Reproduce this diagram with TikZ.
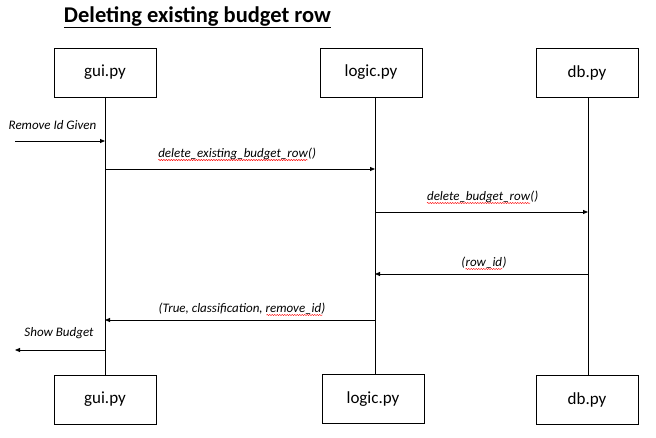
\documentclass[tikz,border=0pt]{standalone}
\usepackage{fontspec}
\setmainfont{Carlito}
\usetikzlibrary{arrows.meta,decorations.pathmorphing}
\begin{document}
\begin{tikzpicture}[x=1pt,y=-1pt,
  obj/.style={draw,line width=0.8pt,minimum width=102pt,minimum height=49pt,font=\fontsize{17}{20}\selectfont,inner sep=0pt},
  life/.style={line width=0.8pt},
  msg/.style={line width=0.8pt,-{Triangle[length=5pt,width=4pt]}},
  lbl/.style={font=\fontsize{13}{15}\selectfont\itshape,inner sep=0pt},
  part/.style={lbl,anchor=base west},
  spell/.style={red,line width=0.4pt,decorate,decoration={snake,amplitude=0.6pt,segment length=2.5pt}}]
\useasboundingbox (0,0) rectangle (656,437);
\node[font=\fontsize{22.5}{26}\selectfont\bfseries] (title) at (197.5,17) {\underline{Deleting existing budget row}};
\node[obj] (g1) at (105,72.5) {gui.py};
\node[obj] (l1) at (371,72.5) {logic.py};
\node[obj] (d1) at (587,72.5) {db.py};
\node[obj] (g2) at (105,399.5) {gui.py};
\node[obj] (l2) at (373,399) {logic.py};
\node[obj] (d2) at (587,399.5) {db.py};
\draw[life] (g1.south) -- (g2.north);
\draw[life] (375,97) coordinate (l1b) -- (375,375) coordinate (l2t);
\draw[life] (588,97) coordinate (d1b) -- (588,375) coordinate (d2t);
% messages
\coordinate (in) at (15,141);
\coordinate (g141) at (105,141);
\draw[msg] (in) -- (g141);
\node[lbl,anchor=base] (m0) at (52.5,129) {Remove Id Given};
\coordinate (g169) at (105,169);
\coordinate (l169) at (375,169);
\draw[msg] (g169) -- (l169);
\node[lbl,anchor=base] (m1) at (237,157.5) {\phantom{delete\_existing\_budget\_row()}};
\node[part] (m1w) at (m1.base west) {delete\_existing\_budget\_row};
\node[part] (m1p) at (m1w.base east) {()};
\coordinate (l212) at (375,212);
\coordinate (d212) at (588,212);
\draw[msg] (l212) -- (d212);
\node[lbl,anchor=base] (m2) at (482.5,200.5) {\phantom{delete\_budget\_row()}};
\node[part] (m2w) at (m2.base west) {delete\_budget\_row};
\node[part] (m2p) at (m2w.base east) {()};
\coordinate (d274) at (588,274);
\coordinate (l274) at (375,274);
\draw[msg] (d274) -- (l274);
\node[lbl,anchor=base] (m3) at (483.5,266.5) {\phantom{(row\_id)}};
\node[part] (m3a) at (m3.base west) {(};
\node[part] (m3w) at (m3a.base east) {row\_id};
\node[part] (m3b) at (m3w.base east) {)};
\coordinate (l320) at (375,320);
\coordinate (g320) at (105,320);
\draw[msg] (l320) -- (g320);
\node[lbl,anchor=base] (m4) at (242,312.5) {\phantom{(True, classification, remove\_id)}};
\node[part] (m4w) at (m4.base east) [anchor=base east,xshift=-3pt] {\phantom{remove\_id}};
\node[part] (m4t) at (m4.base west) {(True, classification, remove\_id)};
\coordinate (g350) at (105,350);
\coordinate (out) at (15,350);
\draw[msg] (g350) -- (out);
\node[lbl,anchor=base] (m5) at (59,336) {Show Budget};
% spell-check underlines
\draw[spell] ([yshift=-2.5pt]m1w.base west) -- ([yshift=-2.5pt]m1w.base east);
\draw[spell] ([yshift=-2.5pt]m2w.base west) -- ([yshift=-2.5pt]m2w.base east);
\draw[spell] ([yshift=-2.5pt]m3w.base west) -- ([yshift=-2.5pt]m3w.base east);
\draw[spell] ([yshift=-2.5pt]m4w.base west) -- ([yshift=-2.5pt]m4w.base east);
\end{tikzpicture}
\end{document}
